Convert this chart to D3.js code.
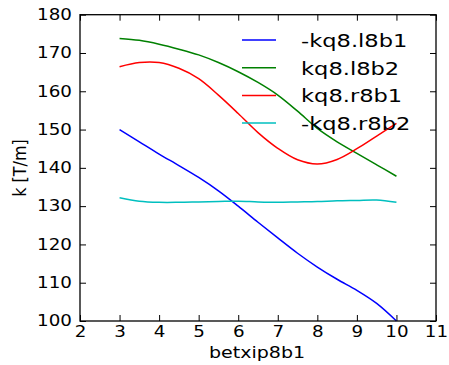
<!DOCTYPE html>
<html>
<head>
<meta charset="utf-8">
<script src="https://cdn.jsdelivr.net/npm/d3@7"></script>
<style>
  body { margin: 0; background: #fff; }
  text { font-family: "DejaVu Sans", sans-serif; fill: #000; }
</style>
</head>
<body>
<svg id="chart" width="449" height="365"></svg>
<script>
// values
const betx = [3, 3.5, 4, 4.5, 5, 5.5, 6, 6.5, 7, 7.5, 8, 8.5, 9, 9.5, 10];
const kq8l8b1 = [150, 146.8, 143.6, 140.6, 137.5, 134, 130, 125.8, 121.7, 117.7, 114.1, 110.9, 108, 104.6, 100];
const kq8l8b2 = [173.8, 173.3, 172.3, 171, 169.5, 167.5, 165.1, 162.3, 159, 154.8, 150.3, 146.8, 143.8, 140.8, 137.8];
const kq8r8b1 = [166.4, 167.5, 167.5, 166, 163.3, 159, 154.2, 149.2, 145.1, 142.1, 141, 142.2, 145, 148.3, 151.6];
const kq8r8b2 = [132.2, 131.3, 131.0, 131.0, 131.1, 131.2, 131.3, 131.1, 131.0, 131.1, 131.2, 131.4, 131.5, 131.6, 131.0];
const seriesNames = ["-kq8.l8b1", "kq8.l8b2", "kq8.r8b1", "-kq8.r8b2"];
const seriesColors = ["#0000ff", "#008000", "#ff0000", "#00bfbf"];
const xTicks = [2, 3, 4, 5, 6, 7, 8, 9, 10, 11];
const yTicks = [100, 110, 120, 130, 140, 150, 160, 170, 180];

const series = [kq8l8b1, kq8l8b2, kq8r8b1, kq8r8b2];
const stretch = 1.22; // the picture's text is wider than it is tall

const mLeft = 80, mRight = 436, mTop = 14.7, mBottom = 321;

const svg = d3.select("#chart");

const x = d3.scaleLinear().domain([2, 11]).range([mLeft, mRight]);
const y = d3.scaleLinear().domain([100, 180]).range([mBottom, mTop]);

// ticks on all four sides, pointing inward
svg.append("g")
    .attr("transform", `translate(0, ${mBottom})`)
    .call(d3.axisBottom(x).tickValues(xTicks).tickSize(-6).tickSizeOuter(0).tickPadding(5))
    .call(g => g.select(".domain").remove())
    .call(g => g.selectAll("text")
        .attr("transform", `scale(${stretch},1)`)
        .style("font-size", "15px"));

svg.append("g")
    .attr("transform", `translate(0, ${mTop})`)
    .call(d3.axisTop(x).tickValues(xTicks).tickSize(-6).tickSizeOuter(0).tickFormat(""))
    .call(g => g.select(".domain").remove());

svg.append("g")
    .attr("transform", `translate(${mLeft}, 0)`)
    .call(d3.axisLeft(y).tickValues(yTicks).tickSize(-6).tickSizeOuter(0))
    .call(g => g.select(".domain").remove())
    .call(g => g.selectAll("text")
        .attr("x", -8 / stretch)
        .attr("transform", `scale(${stretch},1)`)
        .style("font-size", "15px"));

svg.append("g")
    .attr("transform", `translate(${mRight}, 0)`)
    .call(d3.axisRight(y).tickValues(yTicks).tickSize(-6).tickSizeOuter(0).tickFormat(""))
    .call(g => g.select(".domain").remove());

svg.selectAll(".tick line").attr("stroke", "#000");

const line = d3.line()
    .x((d, i) => x(betx[i]))
    .y(d => y(d))
    .curve(d3.curveCatmullRom);

svg.selectAll(".series")
    .data(series)
    .enter()
    .append("path")
    .attr("class", "series")
    .attr("d", d => line(d))
    .attr("fill", "none")
    .attr("stroke", (d, i) => seriesColors[i])
    .attr("stroke-width", 1.5);

// frame
svg.append("rect")
    .attr("x", mLeft)
    .attr("y", mTop)
    .attr("width", mRight - mLeft)
    .attr("height", mBottom - mTop)
    .attr("fill", "none")
    .attr("stroke", "#000")
    .attr("stroke-width", 1.3);

// legend
const legend = svg.append("g");
seriesNames.forEach((name, i) => {
    const ly = 40 + i * 27.7;
    legend.append("line")
        .attr("x1", 242).attr("x2", 276)
        .attr("y1", ly).attr("y2", ly)
        .attr("stroke", seriesColors[i])
        .attr("stroke-width", 1.5);
    legend.append("text")
        .attr("transform", `translate(301, ${ly + 7}) scale(${stretch},1)`)
        .style("font-size", "18.5px")
        .text(name);
});

svg.append("text")
    .attr("transform", `translate(257, 358) scale(1.27,1)`)
    .attr("text-anchor", "middle")
    .style("font-size", "15px")
    .text("betxip8b1");

svg.append("text")
    .attr("transform", `translate(26, 168) scale(1.15,1) rotate(-90)`)
    .attr("text-anchor", "middle")
    .style("font-size", "16px")
    .text("k [T/m]");
</script>
</body>
</html>
